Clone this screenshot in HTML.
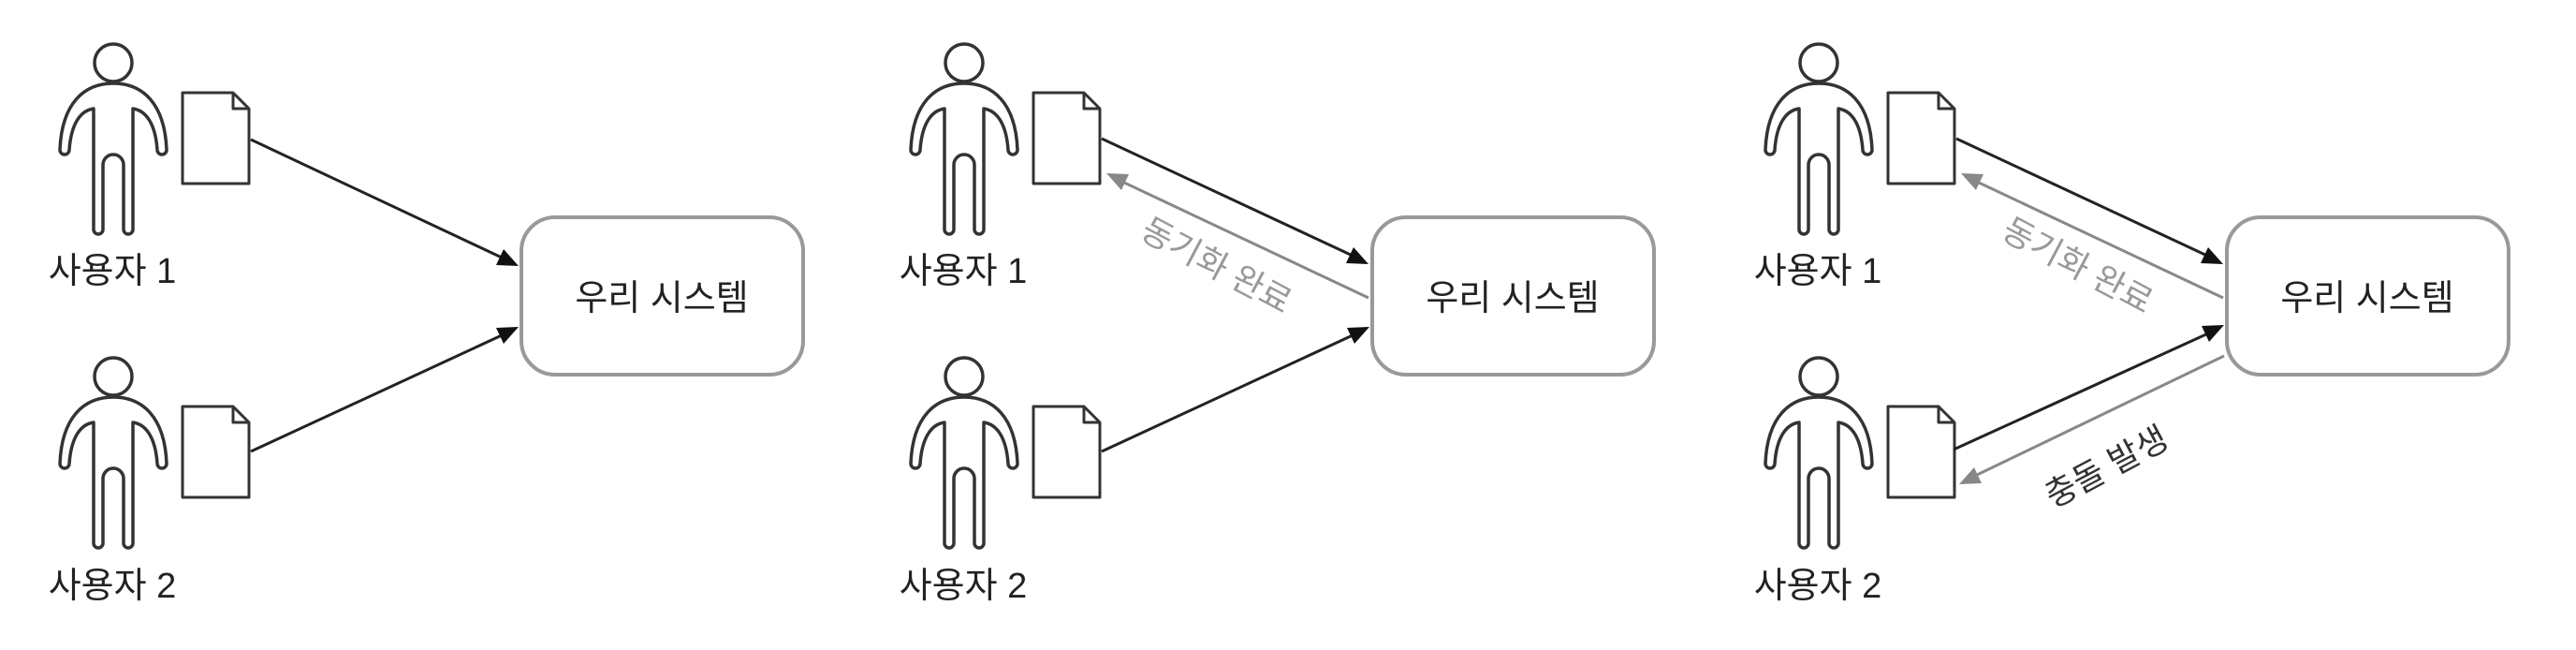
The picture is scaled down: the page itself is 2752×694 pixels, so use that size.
<!DOCTYPE html>
<html><head><meta charset="utf-8"><style>
html,body{margin:0;padding:0;background:#fff;}
svg{display:block;}
text{font-family:"Liberation Sans","Noto Sans CJK KR",sans-serif;}
</style></head><body>
<svg width="2752" height="694" viewBox="0 0 2752 694" xmlns="http://www.w3.org/2000/svg">
<defs>
<g id="person" fill="#fff" stroke="#333" stroke-width="3.5" stroke-linejoin="round">
<circle cx="121" cy="67" r="20"/>
<path d="M121,89 C90,89 66,110 64,160 A5,5 0 0 0 74,160 C76,132 86,118 100,116 L100,245 A5,5 0 0 0 110,245 L110,176 A11,11 0 0 1 132,176 L132,245 A5,5 0 0 0 142,245 L142,116 C156,118 166,132 168,160 A5,5 0 0 0 178,160 C176,110 152,89 121,89 Z"/>
</g>
<g id="doc" fill="#fff" stroke="#333" stroke-width="3" stroke-linejoin="round">
<path d="M195,99 L249,99 L266,116 L266,196 L195,196 Z"/>
<path d="M249,99 L249,116 L266,116" fill="none"/>
</g>
<g id="base">
<use href="#person"/><use href="#doc"/>
<text x="120" y="302" font-size="38" text-anchor="middle" fill="#222">사용자 1</text>
<g transform="translate(0,335)"><use href="#person"/><use href="#doc"/></g>
<text x="120" y="638" font-size="38" text-anchor="middle" fill="#222">사용자 2</text>
<rect x="557" y="232" width="301" height="168" rx="36" fill="#fff" stroke="#999" stroke-width="4"/>
<text x="707" y="331" font-size="38" text-anchor="middle" fill="#222">우리 시스템</text>
</g>
</defs>

<!-- Panel 1 -->
<use href="#base"/>
<line x1="268" y1="149" x2="536" y2="275" stroke="#222" stroke-width="3"/>
<polygon points="554,284 530,283 538,266" fill="#111"/>
<line x1="268" y1="482" x2="536" y2="358" stroke="#222" stroke-width="3"/>
<polygon points="554,349 538,367 530,350" fill="#111"/>

<!-- Panel 2 -->
<g transform="translate(909,0)">
<use href="#base"/>
<line x1="268" y1="148" x2="536" y2="273" stroke="#222" stroke-width="3"/>
<polygon points="553,282 529,281 537,264" fill="#111"/>
<line x1="553" y1="318" x2="290" y2="194" stroke="#888" stroke-width="3"/>
<polygon points="273,185 297,186 289,203" fill="#888"/>
<text transform="translate(391,283) rotate(28)" dy="13" font-size="36" text-anchor="middle" fill="#999">동기화 완료</text>
<line x1="268" y1="482" x2="536" y2="358" stroke="#222" stroke-width="3"/>
<polygon points="554,349 538,367 530,350" fill="#111"/>
</g>

<!-- Panel 3 -->
<g transform="translate(1822,0)">
<use href="#base"/>
<line x1="268" y1="148" x2="536" y2="273" stroke="#222" stroke-width="3"/>
<polygon points="553,282 529,281 537,264" fill="#111"/>
<line x1="553" y1="318" x2="290" y2="194" stroke="#888" stroke-width="3"/>
<polygon points="273,185 297,186 289,203" fill="#888"/>
<text transform="translate(398,283) rotate(28)" dy="13" font-size="36" text-anchor="middle" fill="#999">동기화 완료</text>
<line x1="265" y1="480" x2="537" y2="356" stroke="#222" stroke-width="3"/>
<polygon points="554,347 538,365 530,348" fill="#111"/>
<line x1="554" y1="380" x2="288" y2="508" stroke="#888" stroke-width="3"/>
<polygon points="271,517 287,499 295,516" fill="#888"/>
<text transform="translate(428,498) rotate(-28)" dy="13" font-size="36" text-anchor="middle" fill="#333">충돌 발생</text>
</g>
</svg>
</body></html>
